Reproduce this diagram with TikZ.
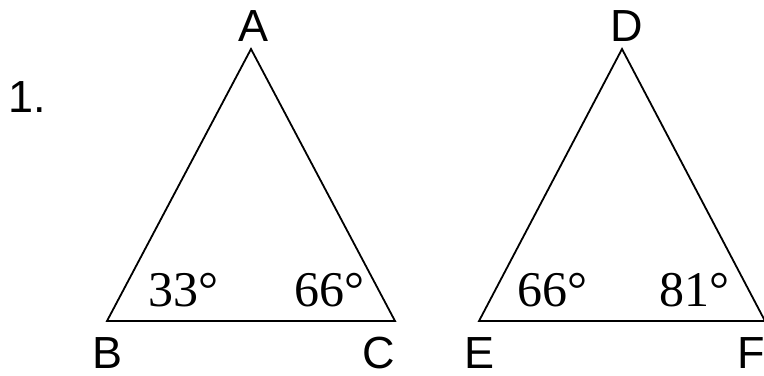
\documentclass[tikz,border=0pt]{standalone}
\usepackage{fontspec}
\setmainfont{Liberation Serif}
\newfontfamily\labelfont{Liberation Sans}
\usetikzlibrary{positioning}

\tikzset{
  side/.style={line width=0.9pt, line join=miter},
  vertexlabel/.style={inner sep=0pt, font=\labelfont\fontsize{22.5}{24}\selectfont},
  anglelabel/.style={inner sep=0pt, font=\fontsize{25}{27}\selectfont}
}

\begin{document}
\begin{tikzpicture}[x=0.5pt, y=0.5pt]
\useasboundingbox (0,0) rectangle (764,375);
%
\node[vertexlabel] (num) at (27,278) {1.};
% Triangle ABC
\coordinate (A) at (251,326);
\coordinate (B) at (107,54);
\coordinate (C) at (395,54);
\draw[side] (A) -- (B) -- (C) -- cycle;
\node[vertexlabel] (labA) at (254,349) {A};
\node[vertexlabel] (labB) at (108,22) {B};
\node[vertexlabel] (labC) at (379,22) {C};
\node[anglelabel] (angB) at (183,85) {33°};
\node[anglelabel] (angC) at (329,85) {66°};
% Triangle DEF
\coordinate (D) at (622,326);
\coordinate (E) at (479,54);
\coordinate (F) at (765,54);
\draw[side] (D) -- (E) -- (F) -- cycle;
\node[vertexlabel] (labD) at (627,349) {D};
\node[vertexlabel] (labE) at (479,22) {E};
\node[vertexlabel] (labF) at (751,22) {F};
\node[anglelabel] (angE) at (552,85) {66°};
\node[anglelabel] (angF) at (694,85) {81°};
\end{tikzpicture}
\end{document}
